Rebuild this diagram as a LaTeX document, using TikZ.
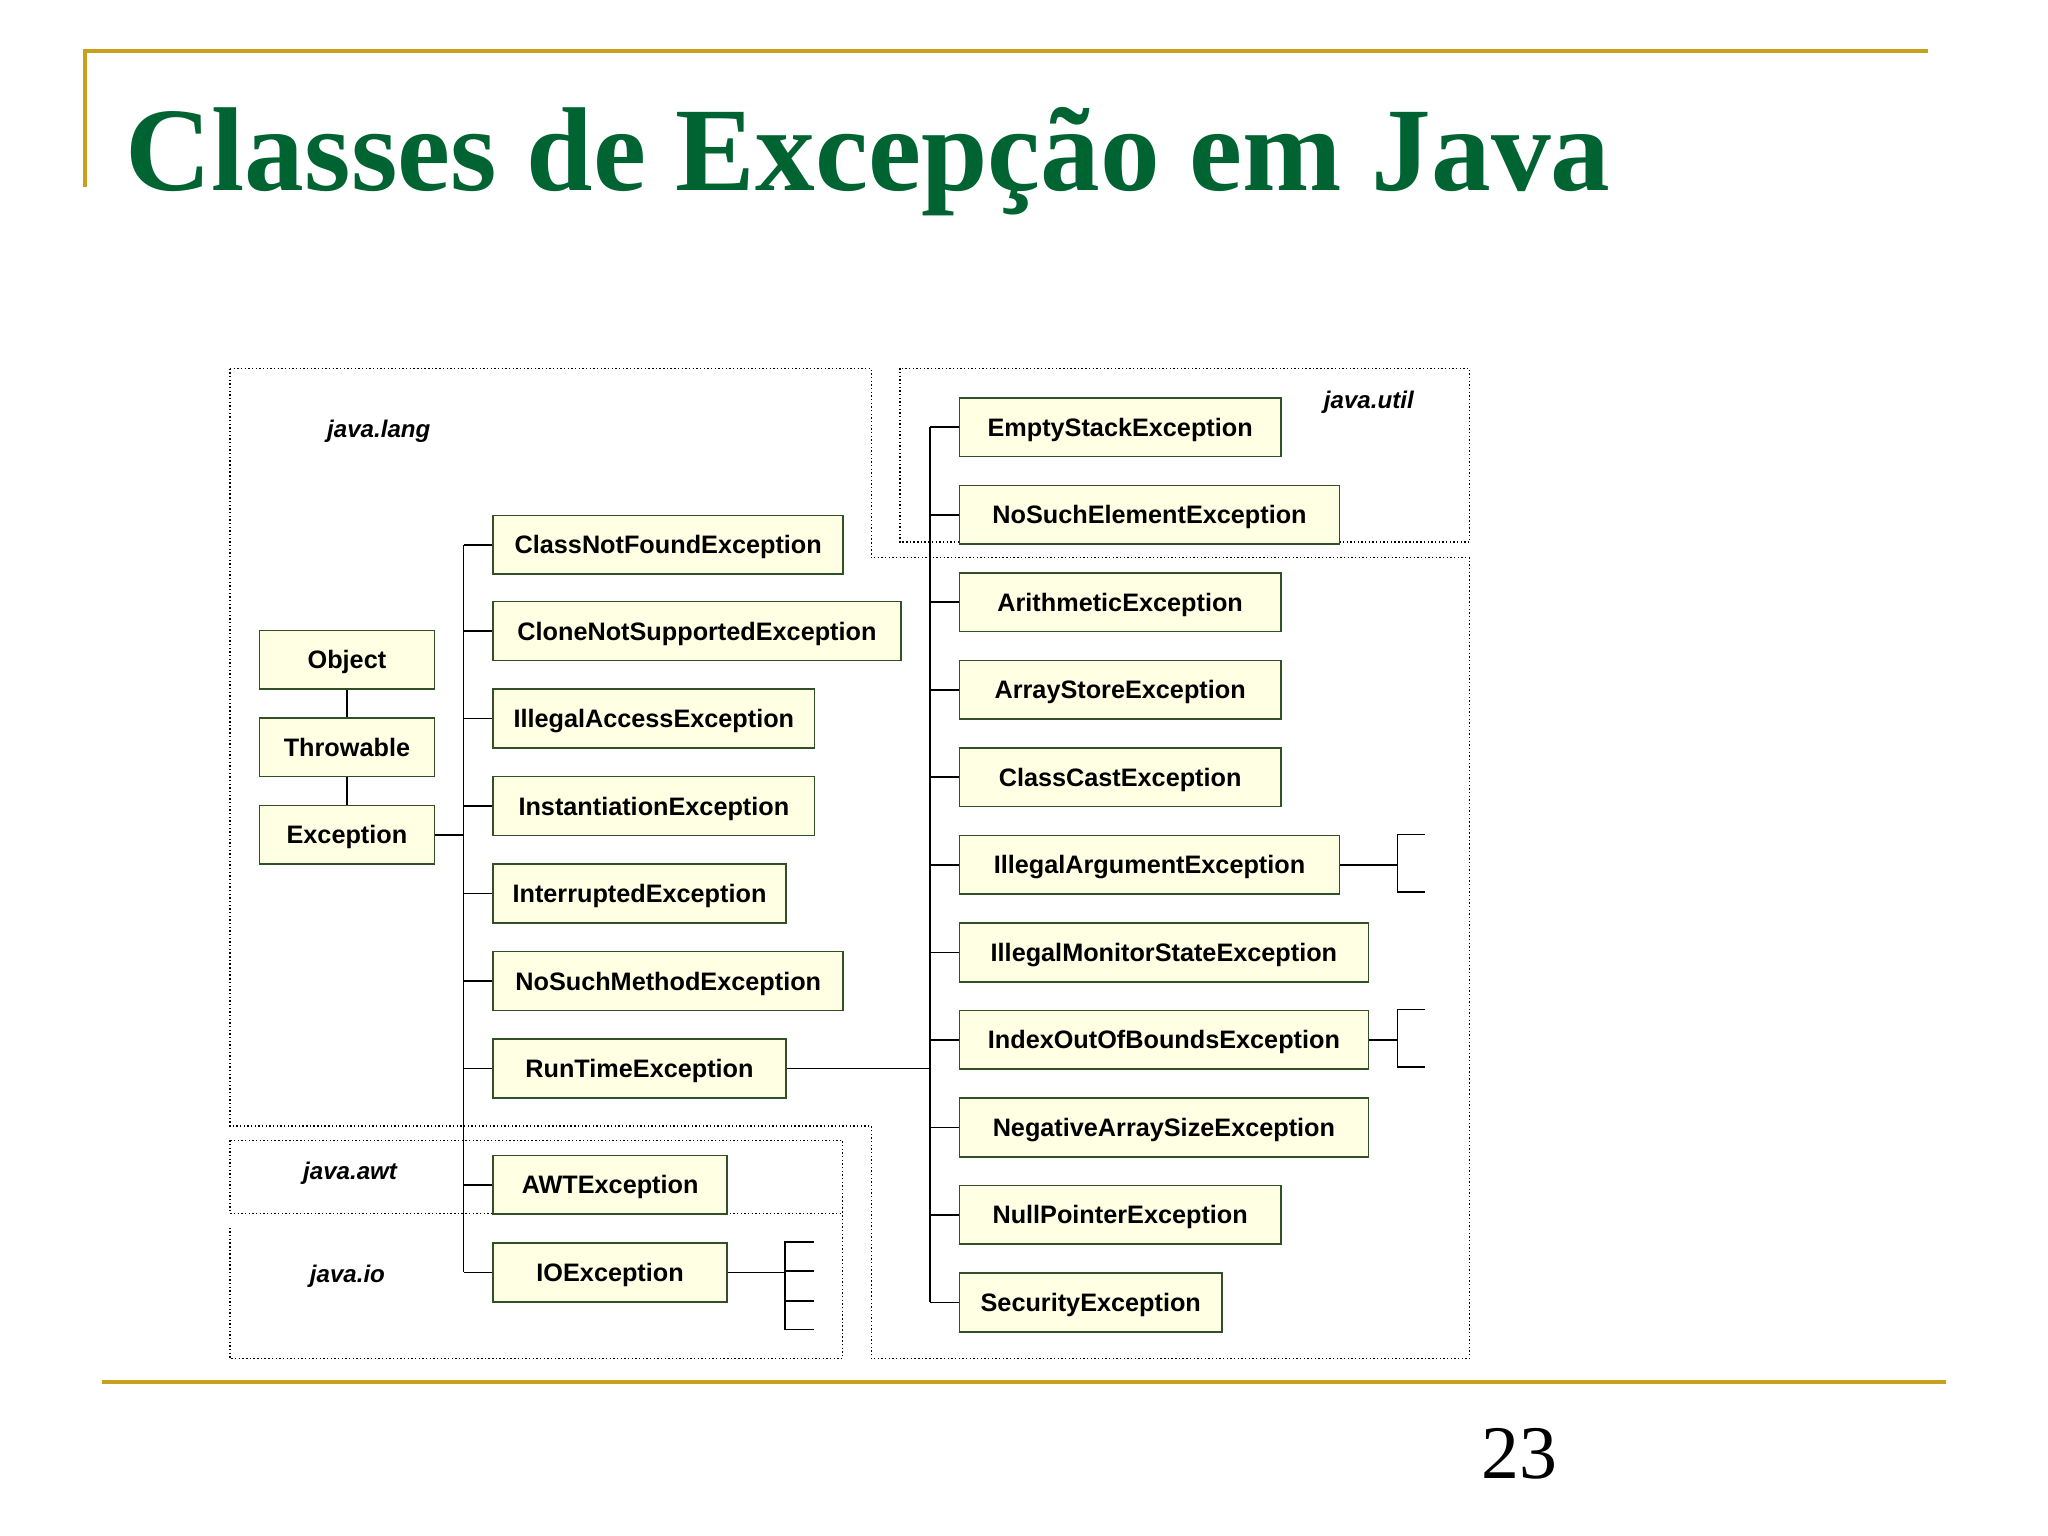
\documentclass[tikz,border=0pt]{standalone}
\usepackage{fontspec}
\setmainfont{Liberation Serif}
\setsansfont{Liberation Sans}
\begin{document}
\begin{tikzpicture}[x=0.02cm,y=-0.02cm,
  box/.style={draw={rgb,255:red,50;green,80;blue,40},fill={rgb,255:red,255;green,255;blue,228},line width=0.7pt,minimum height=0.9cm,inner sep=0pt,text depth=0pt,font=\sffamily\bfseries\fontsize{11}{12}\selectfont},
  pkg/.style={font=\sffamily\bfseries\itshape\fontsize{10.5}{12}\selectfont},
  dot/.style={densely dotted,line width=0.6pt},
  ln/.style={line width=0.7pt}]
\definecolor{gold}{RGB}{200,160,30}
\definecolor{tgreen}{RGB}{0,100,50}
\useasboundingbox (0,0) rectangle (1568,1176);
% frame
\draw[gold,line width=2pt] (65,143) -- (65,39) -- (1476,39);
\draw[gold,line width=2pt] (78,1058) -- (1490,1058);
\node[anchor=west,text=tgreen,font=\bfseries\fontsize{52}{56}\selectfont] (title) at (90,124) {Classes de Excepção em Java};
\node[font=\fontsize{33}{36}\selectfont] (num) at (1163,1113) {23};
% regions
\draw[dot] (176,282) -- (667,282) -- (667,427) -- (1125,427) -- (1125,1040) -- (667,1040) -- (667,862) -- (176,862) -- cycle;
\draw[dot] (689,282) rectangle (1125,415);
\draw[dot] (176,873) rectangle (645,929);
\draw[dot] (176,940) -- (176,1040) -- (645,1040) -- (645,929);
\node[pkg] (pl) at (290,330) {java.lang};
\node[pkg] (pu) at (1048,308) {java.util};
\node[pkg] (pa) at (268,898) {java.awt};
\node[pkg] (pi) at (266,977) {java.io};
% boxes
\newcommand\bx[5]{\node[box,anchor=north west,minimum width={(#4-#2)*0.02cm}] (#1) at (#2,#3) {#5};}
\bx{obj}{198}{482}{332}{Object}
\bx{thr}{198}{549}{332}{Throwable}
\bx{exc}{198}{616}{332}{Exception}
\draw[ln] (obj.south) -- (thr.north);
\draw[ln] (thr.south) -- (exc.north);
\bx{a1}{377}{394}{645}{ClassNotFoundException}
\bx{a2}{377}{460}{689}{CloneNotSupportedException}
\bx{a3}{377}{527}{623}{IllegalAccessException}
\bx{a4}{377}{594}{623}{InstantiationException}
\bx{a5}{377}{661}{601}{InterruptedException}
\bx{a6}{377}{728}{645}{NoSuchMethodException}
\bx{a7}{377}{795}{601}{RunTimeException}
\bx{a8}{377}{884}{556}{AWTException}
\bx{a9}{377}{951}{556}{IOException}
\coordinate (sL) at (355,0);
\draw[ln] (exc.east) -- (exc.east -| sL);
\draw[ln] (a1.west -| sL) -- (a9.west -| sL);
\foreach \n in {a1,a2,a3,a4,a5,a6,a7,a8,a9} \draw[ln] (\n.west) -- (\n.west -| sL);
\bx{b1}{734}{304}{980}{EmptyStackException}
\bx{b2}{734}{371}{1025}{NoSuchElementException}
\bx{b3}{734}{438}{980}{ArithmeticException}
\bx{b4}{734}{505}{980}{ArrayStoreException}
\bx{b5}{734}{572}{980}{ClassCastException}
\bx{b6}{734}{639}{1025}{IllegalArgumentException}
\bx{b7}{734}{706}{1047}{IllegalMonitorStateException}
\bx{b8}{734}{773}{1047}{IndexOutOfBoundsException}
\bx{b9}{734}{840}{1047}{NegativeArraySizeException}
\bx{b10}{734}{907}{980}{NullPointerException}
\bx{b11}{734}{974}{935}{SecurityException}
\coordinate (sR) at (712,0);
\draw[ln] (b1.west -| sR) -- (b11.west -| sR);
\foreach \n in {b1,b2,b3,b4,b5,b6,b7,b8,b9,b10,b11} \draw[ln] (\n.west) -- (\n.west -| sR);
\draw[ln] (a7.east) -- (a7.east -| sR);
% brackets
\coordinate (k1) at (1070,0);
\coordinate (k2) at (601,0);
\draw[ln] (b6.east) -- (b6.east -| k1);
\draw[ln] (1091,639) -- (1070,639) -- (1070,683) -- (1091,683);
\draw[ln] (b8.east) -- (b8.east -| k1);
\draw[ln] (1091,773) -- (1070,773) -- (1070,817) -- (1091,817);
\draw[ln] (a9.east) -- (a9.east -| k2);
\draw[ln] (623,951) -- (601,951) -- (601,1018) -- (623,1018);
\draw[ln] (601,973) -- (623,973);
\draw[ln] (601,996) -- (623,996);
\end{tikzpicture}
\end{document}
